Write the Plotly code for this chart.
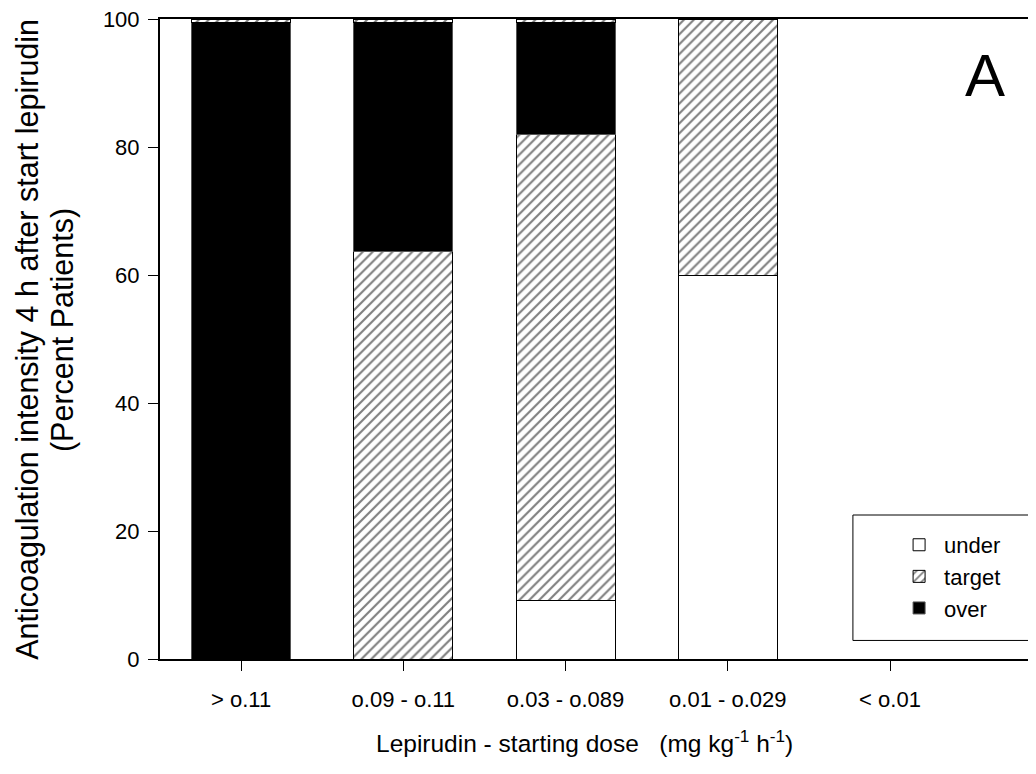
import plotly.graph_objects as go

categories = ["> o.11", "o.09 - o.11", "o.03 - o.089", "o.01 - o.029", "< o.01"]
under = [0, 0, 9.1, 60.0, 0]
target = [0, 63.7, 72.8, 40.0, 0]
over = [99.5, 35.8, 17.6, 0, 0]
target_top = [0.5, 0.5, 0.5, 0, 0]
y_ticks = [0, 20, 40, 60, 80, 100]

FONT = "Liberation Sans, Arial, sans-serif"
BW = 0.61
HATCH = dict(shape="/", size=7, solidity=0.3, fgcolor="black", bgcolor="white", fillmode="overlay")

fig = go.Figure()
fig.add_trace(go.Bar(x=categories, y=under, name="under", width=BW,
                     marker=dict(color="white", line=dict(color="black", width=1))))
fig.add_trace(go.Bar(x=categories, y=target, name="target", width=BW,
                     marker=dict(color="white", line=dict(color="black", width=1), pattern=HATCH)))
fig.add_trace(go.Bar(x=categories, y=over, name="over", width=BW,
                     marker=dict(color="black", line=dict(color="#555555", width=1))))
fig.add_trace(go.Bar(x=categories, y=target_top, name="target", width=BW, showlegend=False,
                     marker=dict(color="white", line=dict(color="black", width=1), pattern=HATCH)))

fig.update_layout(
    barmode="stack",
    width=1028, height=766,
    margin=dict(l=152, r=0, t=11, b=115),
    paper_bgcolor="white", plot_bgcolor="white",
    font=dict(family=FONT, size=22, color="black"),
    showlegend=True,
    legend=dict(x=0.838, y=0.211, xanchor="left", yanchor="top",
                bgcolor="rgba(0,0,0,0)", borderwidth=0,
                font=dict(size=22), traceorder="normal", itemwidth=40),
    xaxis=dict(type="category", range=[-0.5, 4.9], showline=True, linecolor="black",
               linewidth=2, mirror=True, ticks="outside", ticklen=10, tickwidth=1,
               tickcolor="black", showgrid=False, ticklabelstandoff=10,
               tickfont=dict(size=22)),
    yaxis=dict(range=[0, 100], tickvals=y_ticks, showline=True, linecolor="black",
               linewidth=2, ticks="outside", ticklen=10, tickwidth=1, tickcolor="black",
               showgrid=False, zeroline=False, ticklabelstandoff=4,
               ticklabeloverflow="allow", tickfont=dict(size=22)),
    shapes=[dict(type="rect", xref="paper", yref="paper", x0=0.791, x1=0.995,
                 y0=0.029, y1=0.225, line=dict(color="black", width=1))],
    annotations=[
        dict(text="Anticoagulation intensity 4 h after start lepirudin",
             xref="paper", yref="paper", x=(28 - 160) / 876, y=0.4987, textangle=-90,
             showarrow=False, xanchor="center", yanchor="middle",
             font=dict(size=30.5)),
        dict(text="(Percent Patients)",
             xref="paper", yref="paper", x=(62 - 160) / 876, y=0.514, textangle=-90,
             showarrow=False, xanchor="center", yanchor="middle",
             font=dict(size=30.5)),
        dict(text="Lepirudin - starting dose\u00a0\u00a0\u00a0(mg kg<sup>-1</sup> h<sup>-1</sup>)",
             xref="paper", yref="paper", x=0.485, y=-0.129, showarrow=False,
             xanchor="center", yanchor="middle", font=dict(size=24.5)),
        dict(text="A", xref="paper", yref="paper", x=0.942, y=0.912, showarrow=False,
             xanchor="center", yanchor="middle", font=dict(size=60)),
    ],
)

fig.write_html("out.html")
